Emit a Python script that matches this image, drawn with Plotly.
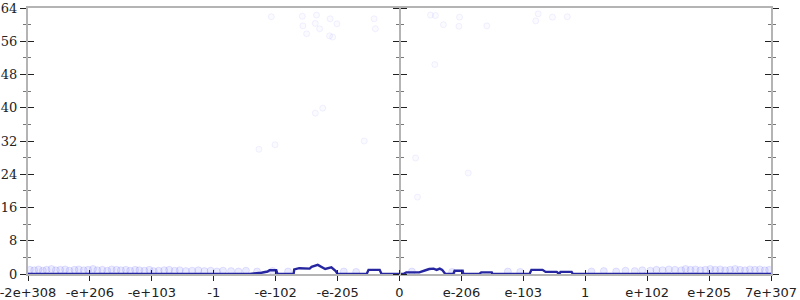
import plotly.graph_objects as go

# Tick labels on the x axis (positions are bucket indices -6..6)
tick_pos = [-6, -5, -4, -3, -2, -1, 0, 1, 2, 3, 4, 5, 6]
tick_text = ["-2e+308", "-e+206", "-e+103", "-1", "-e-102", "-e-205", "0",
             "e-206", "e-103", "1", "e+102", "e+205", "7e+307"]
y_ticks = [0, 8, 16, 24, 32, 40, 48, 56, 64]

# Histogram line (bucket position, count)
line_x = [-6, -2.42, -2.23, -2.13, -2.10, -1.99, -1.97, -1.71, -1.70, -1.62, -1.45, -1.42,
          -1.32, -1.26, -1.20, -1.10, -1.03, -1.00, -0.53, -0.50, -0.32, -0.29,
          0.06, 0.11, 0.32, 0.42, 0.48, 0.55, 0.60, 0.65, 0.69, 0.74, 0.87, 0.89,
          1.02, 1.03, 1.29, 1.32, 1.49, 1.50, 2.10, 2.13, 2.31, 2.36, 2.54, 2.58,
          2.60, 2.78, 2.80, 6]
line_y = [0, 0, 0.3, 0.6, 0.9, 0.9, 0, 0, 1.1, 1.4, 1.3, 1.7,
          2.2, 1.6, 1.2, 1.6, 0.7, 0, 0, 1.0, 1.0, 0,
          0, 0.4, 0.4, 0.9, 1.2, 1.3, 1.0, 1.3, 1.0, 0, 0, 0.8,
          0.8, 0, 0, 0.4, 0.4, 0, 0, 1.0, 1.0, 0.5, 0.5, 0,
          0.5, 0.5, 0, 0]

# Faint sample points: high values
pts_x = [-2.07, -1.57, -1.34, -1.12, -0.41, -1.56, -1.36, -1.29, -1.01, -0.39,
         -1.50, -1.13, -1.08, -1.24, -1.36, -0.57, -2.01, -2.27,
         0.50, 0.58, 0.97, 0.71, 0.96, 1.41, 2.24, 2.20, 2.47, 2.71,
         0.57, 0.26, 1.11, 0.29]
pts_y = [61.9, 62.0, 62.3, 61.4, 61.4, 59.7, 60.3, 59.0, 60.2, 59.0,
         57.8, 57.3, 57.0, 39.9, 38.7, 32.0, 31.1, 30.0,
         62.3, 62.2, 61.8, 60.0, 59.6, 59.7, 62.6, 60.9, 61.8, 61.9,
         50.4, 27.9, 24.3, 18.5]

# Faint sample points: low values along the outer buckets
low_x = [-5.97, -5.90, -5.83, -5.76, -5.70, -5.62, -5.55, -5.48, -5.40, -5.33,
         -5.25, -5.18, -5.10, -5.03, -4.95, -4.88, -4.80, -4.72, -4.65, -4.57,
         -4.50, -4.42, -4.35, -4.27, -4.20, -4.12, -4.04, -3.97, -3.89, -3.80,
         -3.72, -3.63, -3.55, -3.45, -3.35, -3.25, -3.15, -3.05, -2.95, -2.85,
         -2.72, -2.60, -2.48, -2.30, -2.05, -1.80, -0.90, -0.70,
         0.20, 0.85, 1.75, 1.95, 3.10, 3.30, 3.50, 3.65, 3.80, 3.92,
         4.05, 4.15, 4.25, 4.35, 4.45, 4.55, 4.62, 4.70, 4.78, 4.86, 4.94,
         5.02, 5.10, 5.18, 5.26, 5.34, 5.42, 5.50, 5.58, 5.66, 5.74, 5.82,
         5.90, 5.97]
low_y = [1.0, 0.9, 1.1, 0.8, 1.0, 1.2, 0.9, 1.0, 1.1, 0.8,
         1.0, 1.1, 0.9, 1.0, 1.2, 0.9, 1.0, 0.8, 1.1, 1.0,
         0.9, 1.0, 0.8, 1.0, 0.9, 0.8, 1.0, 0.7, 0.8, 0.9,
         1.0, 0.8, 0.9, 0.7, 0.8, 0.9, 0.7, 0.8, 0.6, 0.8,
         0.7, 0.6, 0.8, 0.6, 0.7, 0.6, 0.6, 0.5,
         0.6, 0.5, 0.6, 0.5, 0.6, 0.7, 0.6, 0.8, 0.7, 0.9,
         0.8, 1.0, 0.9, 1.1, 1.0, 0.9, 1.2, 1.0, 1.1, 0.9, 1.0,
         1.2, 1.0, 1.1, 0.9, 1.0, 1.2, 1.0, 0.9, 1.1, 1.0, 1.1,
         0.9, 1.0]

GREY = "#b4b4b4"
fig = go.Figure()
fig.add_trace(go.Scatter(x=pts_x, y=pts_y, mode="markers",
                         marker=dict(size=6, color="rgba(90,90,255,0.03)",
                                     line=dict(color="rgba(90,90,255,0.08)", width=1)),
                         hoverinfo="skip", showlegend=False))
fig.add_trace(go.Scatter(x=low_x, y=low_y, mode="markers",
                         marker=dict(size=7, color="rgba(90,90,255,0.12)",
                                     line=dict(color="rgba(90,90,255,0.15)", width=1)),
                         hoverinfo="skip", showlegend=False))
fig.add_trace(go.Scatter(x=line_x, y=line_y, mode="lines",
                         line=dict(color="#2626a0", width=2.4),
                         showlegend=False))

yrange = [0, 64]
base_y = dict(range=yrange, tickvals=y_ticks, showgrid=False, zeroline=False,
              ticklen=6, tickwidth=1.2, tickcolor="#222", automargin=False,
              minor=dict(dtick=4, tick0=0, ticklen=3, tickcolor="#777", showgrid=False),
              showticklabels=False, overlaying="y")

fig.update_layout(
    width=800, height=300, margin=dict(l=28, r=29, t=8, b=26, autoexpand=False),
    paper_bgcolor="white", plot_bgcolor="white",
    xaxis=dict(range=[-6, 6], tickvals=tick_pos, ticktext=tick_text, ticks="outside",
               ticklen=5, tickcolor="#222", showgrid=False, zeroline=False, automargin=False,
               ticklabeloverflow="allow",
               showline=True, mirror=True, linecolor=GREY, linewidth=2, layer="below traces",
               tickfont=dict(family="DejaVu Sans", size=13, color="#222")),
    xaxis2=dict(range=[-6, 6], tickvals=tick_pos, ticks="inside", ticklen=4, tickcolor="#222",
                showticklabels=False, showgrid=False, zeroline=False, overlaying="x",
                matches="x", automargin=False),
    yaxis=dict(range=yrange, tickvals=y_ticks, ticks="outside", ticklen=6, tickwidth=1.2,
               tickcolor="#222", showgrid=False, zeroline=False, showline=True,
               linecolor=GREY, linewidth=2, layer="below traces", automargin=False,
               ticklabeloverflow="allow",
               minor=dict(dtick=4, tick0=0, ticklen=3, ticks="outside", tickcolor="#777"),
               tickfont=dict(family="DejaVu Serif", size=13, color="#222")),
)
fig.update_layout(
    yaxis2=dict(base_y, side="left", ticks="inside",
                minor=dict(base_y["minor"], ticks="inside")),
    yaxis3=dict(base_y, anchor="free", position=0.5, side="left", ticks="outside",
                showline=True, linecolor=GREY, linewidth=2,
                minor=dict(base_y["minor"], ticks="outside")),
    yaxis4=dict(base_y, anchor="free", position=0.5, side="right", ticks="outside",
                minor=dict(base_y["minor"], ticks="outside")),
    yaxis5=dict(base_y, side="right", ticks="outside", showline=True, linecolor=GREY,
                linewidth=2, minor=dict(base_y["minor"], ticks="outside")),
    yaxis6=dict(base_y, side="right", ticks="inside",
                minor=dict(base_y["minor"], ticks="inside")),
)
# empty helper traces so the overlay axes are drawn
for ax in ["y2", "y3", "y4", "y5", "y6"]:
    fig.add_trace(go.Scatter(x=[None], y=[None], yaxis=ax, xaxis="x", showlegend=False,
                             hoverinfo="skip"))
fig.add_trace(go.Scatter(x=[None], y=[None], xaxis="x2", showlegend=False, hoverinfo="skip"))

fig.write_html("out.html")
